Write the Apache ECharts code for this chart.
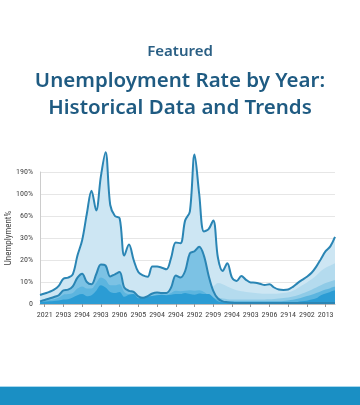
<!DOCTYPE html>
<html>
<head>
<meta charset="utf-8">
<script src="https://cdn.jsdelivr.net/npm/echarts@6/dist/echarts.min.js"></script>
<style>
html,body{margin:0;padding:0;background:#fff;}
#chart{width:360px;height:405px;}
</style>
</head>
<body>
<div id="chart"></div>
<script>
// Tick labels
var xLabels = ['2021','2903','2904','2903','2906','2905','2904','2904','2902','2909','2904','2903','2906','2914','2902','2013'];
var yLabels = ['0','10%','20%','30%','60%','100%','190%'];
// Series values (index positions on the 0..6 label scale), 64 samples
var topLine = [0.41,0.48,0.55,0.65,0.82,1.15,1.2,1.35,2.2,2.9,4.1,5.15,4.25,5.8,6.9,4.5,4.0,3.9,2.2,2.7,2.0,1.45,1.3,1.24,1.7,1.7,1.65,1.58,2.1,2.8,2.76,3.8,4.2,6.8,5.0,3.3,3.4,3.8,2.1,1.5,1.85,1.2,1.05,1.27,1.1,0.98,0.97,0.92,0.86,0.9,0.75,0.66,0.64,0.66,0.78,0.95,1.1,1.24,1.42,1.7,2.05,2.4,2.62,3.05];
var band1 = [0.12,0.18,0.25,0.32,0.4,0.62,0.65,0.8,1.2,1.38,1.0,0.9,1.35,1.8,1.75,1.25,1.35,1.45,0.75,0.6,0.55,0.35,0.28,0.36,0.48,0.52,0.5,0.5,0.75,1.3,1.2,1.5,2.3,2.4,2.6,2.2,1.3,0.8,0.95,0.9,0.8,0.7,0.62,0.58,0.55,0.52,0.5,0.48,0.47,0.47,0.47,0.48,0.5,0.53,0.6,0.72,0.85,0.98,1.12,1.3,1.5,1.65,1.75,1.85];
var secondLine = [0.12,0.18,0.25,0.32,0.4,0.62,0.65,0.8,1.2,1.38,1.0,0.9,1.35,1.8,1.75,1.25,1.35,1.45,0.75,0.6,0.55,0.35,0.28,0.36,0.48,0.52,0.5,0.5,0.75,1.3,1.2,1.5,2.3,2.4,2.6,2.2,1.3,0.6,0.25,0.12,0.08,0.06,0.05,0.05,0.05,0.05,0.05,0.05,0.05,0.05,0.05,0.05,0.05,0.05,0.05,0.05,0.05,0.05,0.05,0.05,0.05,0.05,0.05,0.05];
var band2 = [0,0,0,0,0,0,0,0,0,0,0,0,0,0,0,0,0,0,0,0,0,0,0,0,0,0,0,0,0,0,0,0,0,0,0,0,0,0,0.3,0.25,0.22,0.2,0.2,0.2,0.2,0.2,0.2,0.2,0.21,0.22,0.23,0.25,0.27,0.3,0.34,0.4,0.48,0.56,0.65,0.75,0.85,0.95,1.02,1.09];
var band3 = [0.1,0.14,0.18,0.22,0.28,0.42,0.45,0.5,0.7,0.8,0.7,0.7,0.95,1.2,1.1,0.85,0.85,0.9,0.55,0.45,0.45,0.3,0.25,0.3,0.38,0.42,0.42,0.42,0.5,0.6,0.58,0.6,0.62,0.6,0.62,0.55,0.4,0.3,0.2,0.15,0.12,0.12,0.12,0.12,0.12,0.12,0.12,0.12,0.12,0.12,0.12,0.13,0.14,0.16,0.19,0.24,0.3,0.36,0.42,0.5,0.58,0.66,0.72,0.79];
var bottomArea = [0.08,0.1,0.12,0.14,0.16,0.2,0.22,0.3,0.4,0.45,0.35,0.4,0.6,0.85,0.75,0.55,0.5,0.55,0.33,0.42,0.45,0.26,0.28,0.33,0.36,0.4,0.42,0.4,0.42,0.45,0.45,0.5,0.45,0.42,0.48,0.45,0.45,0.3,0.12,0.08,0.06,0.05,0.05,0.05,0.05,0.05,0.05,0.05,0.05,0.05,0.05,0.05,0.05,0.06,0.07,0.09,0.12,0.15,0.2,0.26,0.4,0.48,0.55,0.62];

var categories = topLine.map(function(_, i){ return 'c' + i; });
function isLabelIdx(i){ return i >= 1 && (i - 1) % 4 === 0; }
function labelFor(v){ var i = parseInt(String(v).slice(1), 10); return isLabelIdx(i) ? xLabels[(i - 1) / 4] : ''; }

var chart = echarts.init(document.getElementById('chart'), null, {renderer:'canvas'});

function areaSeries(name, data, fill, line){
  return {
    name: name, type: 'line', data: data, smooth: 0.35, symbol: 'none', clip: false,
    lineStyle: line ? {color: '#2a85b4', width: 2} : {width: 0, opacity: 0},
    areaStyle: {color: fill, opacity: 1}
  };
}

var narrow = 'Liberation Sans Narrow, Roboto Condensed, Roboto';

chart.setOption({
  backgroundColor: '#ffffff',
  animation: false,
  title: [
    {text: 'Featured', left: 'center', top: 39, textStyle: {fontFamily: 'Noto Sans', fontSize: 15, fontWeight: 600, color: '#2a5f84'}},
    {text: 'Unemployment Rate by Year:\nHistorical Data and Trends', left: 'center', top: 63,
     textStyle: {fontFamily: 'Noto Sans', fontSize: 20.5, fontWeight: 600, color: '#1f5b82', lineHeight: 27}}
  ],
  grid: {left: 40, right: 25, top: 172, bottom: 101, containLabel: false, outerBoundsMode: 'none'},
  xAxis: {
    type: 'category', data: categories, boundaryGap: false,
    axisLine: {show: true, lineStyle: {color: '#bbbbbb'}},
    axisTick: {show: true, interval: function(i){ return isLabelIdx(i); }, length: 3, lineStyle: {color: '#999'}},
    axisLabel: {
      interval: function(i){ return isLabelIdx(i); },
      formatter: function(v){ return labelFor(v); },
      showMinLabel: true, showMaxLabel: true, hideOverlap: false,
      fontFamily: narrow, fontSize: 8, color: '#444', margin: 7
    },
    splitLine: {show: false}
  },
  yAxis: {
    type: 'value', min: 0, max: 6, interval: 1,
    name: 'Unemplyment%', nameLocation: 'middle', nameGap: 27, nameMoveOverlap: false,
    nameTextStyle: {fontFamily: narrow, fontSize: 9, color: '#444'},
    axisLine: {show: true, lineStyle: {color: '#cccccc'}},
    axisTick: {show: false},
    axisLabel: {formatter: function(v){ return yLabels[v]; }, fontFamily: narrow, fontSize: 8, color: '#444', margin: 7},
    splitLine: {show: true, lineStyle: {color: '#e6e6e6', width: 1}}
  },
  series: [
    areaSeries('top', topLine, '#cde6f3', true),
    areaSeries('band1', band1, '#b4dbee', false),
    areaSeries('second', secondLine, '#7cc2e4', true),
    areaSeries('band2', band2, '#8fcbe7', false),
    areaSeries('band3', band3, '#5cb5df', false),
    areaSeries('bottom', bottomArea, '#2b9cd4', false)
  ],
  graphic: [
    {type: 'rect', shape: {x: 0, y: 386, width: 360, height: 1}, style: {fill: '#a8d8ee'}, silent: true},
    {type: 'rect', shape: {x: 0, y: 387, width: 360, height: 18}, style: {fill: '#1a8fc4'}, silent: true}
  ]
});
</script>
</body>
</html>
